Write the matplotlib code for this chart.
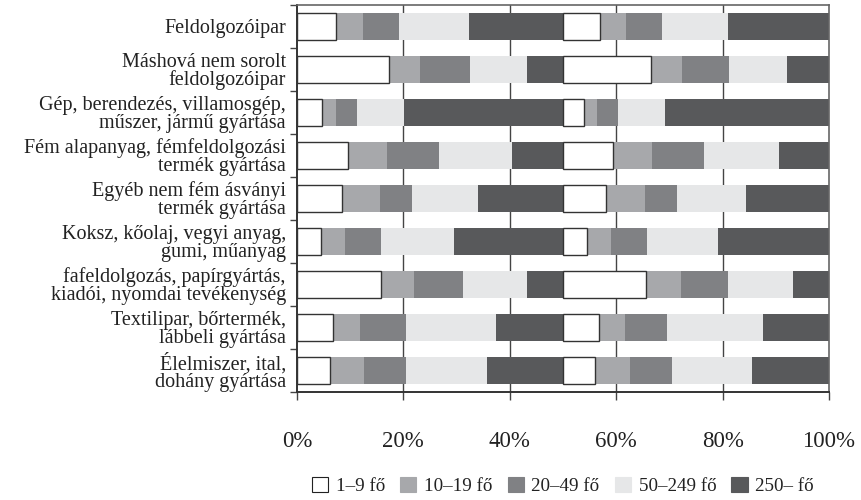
import numpy as np
import matplotlib
matplotlib.use('Agg')
import matplotlib.pyplot as plt
from matplotlib.patches import Patch

# categories, top to bottom
categories = ['Feldolgozóipar',
              'Máshová nem sorolt\nfeldolgozóipar',
              'Gép, berendezés, villamosgép,\nműszer, jármű gyártása',
              'Fém alapanyag, fémfeldolgozási\ntermék gyártása',
              'Egyéb nem fém ásványi\ntermék gyártása',
              'Koksz, kőolaj, vegyi anyag,\ngumi, műanyag',
              'fafeldolgozás, papírgyártás,\nkiadói, nyomdai tevékenység',
              'Textilipar, bőrtermék,\nlábbeli gyártása',
              'Élelmiszer, ital,\ndohány gyártása']

size_groups = ['1–9 fő', '10–19 fő', '20–49 fő', '50–249 fő', '250– fő']

# shares (%) per size group, left bar
left_1_9 = [14.8, 34.5, 9.4, 19.1, 16.9, 8.9, 31.7, 13.5, 12.5]
left_10_19 = [10.2, 11.8, 5.3, 14.8, 14.3, 9.1, 12.3, 10.2, 12.7]
left_20_49 = [13.4, 18.8, 7.9, 19.5, 12.0, 13.5, 18.4, 17.3, 15.8]
left_50_249 = [26.1, 21.4, 17.7, 27.4, 24.8, 27.4, 24.1, 33.8, 30.5]
left_250 = [35.5, 13.5, 59.7, 19.2, 32.0, 41.1, 13.5, 25.2, 28.5]

# shares (%) per size group, right bar
right_1_9 = [13.8, 33.0, 7.9, 18.8, 16.2, 8.9, 31.3, 13.4, 12.1]
right_10_19 = [9.9, 11.8, 4.9, 14.7, 14.7, 9.1, 13.0, 9.9, 13.0]
right_20_49 = [13.5, 17.7, 7.9, 19.5, 12.0, 13.5, 17.7, 15.8, 15.8]
right_50_249 = [24.9, 21.9, 17.7, 28.1, 25.9, 26.8, 24.6, 36.1, 30.2]
right_250 = [37.9, 15.6, 61.6, 18.9, 31.2, 41.7, 13.4, 24.8, 28.9]

colors = ['#ffffff', '#a7a8ab', '#808184', '#e6e7e8', '#58595b']

plt.rcParams['font.family'] = ['Liberation Serif', 'DejaVu Serif']

fig = plt.figure(figsize=(8.62, 5.0), dpi=100)
ax = fig.add_axes([0.3445, 0.216, 0.6172, 0.774])

y = np.arange(len(categories))
bar_h = 0.63

left_data = np.array([left_1_9, left_10_19, left_20_49, left_50_249, left_250])
right_data = np.array([right_1_9, right_10_19, right_20_49, right_50_249, right_250])

for offset, data in [(0, left_data), (50, right_data)]:
    # each bar takes half of the axis
    data = data / data.sum(axis=0) * 50
    start = np.zeros(len(categories)) + offset
    for i, col in enumerate(colors):
        if i == 0:
            ax.barh(y, data[i], left=start, height=bar_h, color=col,
                    edgecolor='#333333', linewidth=1.0, zorder=3)
        else:
            ax.barh(y, data[i], left=start, height=bar_h, color=col,
                    linewidth=0, zorder=2)
        start = start + data[i]

ax.set_xlim(0, 100)
ax.set_ylim(len(categories) - 0.5, -0.5)

# grid
for gx in [20, 40, 60, 80]:
    ax.axvline(gx, color='#444444', lw=1.0, zorder=1)

ax.set_xticks([0, 20, 40, 60, 80, 100])
ax.set_xticklabels(['0%', '20%', '40%', '60%', '80%', '100%'], fontsize=16.5,
                   color='#222222')
ax.tick_params(axis='x', length=6, width=1, color='#444444', pad=22)

ax.set_yticks(y)
ax.set_yticklabels(categories, fontsize=14.5, linespacing=0.9, color='#222222')
ax.tick_params(axis='y', length=0, pad=8)
ax.set_yticks(np.arange(len(categories) + 1) - 0.5, minor=True)
ax.tick_params(axis='y', which='minor', length=5, width=1, color='#444444')

for side in ['left', 'bottom']:
    ax.spines[side].set_color('#333333')
    ax.spines[side].set_linewidth(1.4)
for side in ['top', 'right']:
    ax.spines[side].set_color('#666666')
    ax.spines[side].set_linewidth(1.2)

handles = [Patch(facecolor=c, edgecolor='#222222' if i == 0 else c, linewidth=0.8)
           for i, c in enumerate(colors)]
fig.legend(handles, size_groups, loc='center', bbox_to_anchor=(0.653, 0.028),
           ncol=5, frameon=False, fontsize=13.7, handlelength=0.85, handleheight=0.85,
           handletextpad=0.4, columnspacing=0.8, borderaxespad=0, labelcolor='#222222')

fig.savefig('out.png', dpi=100)
